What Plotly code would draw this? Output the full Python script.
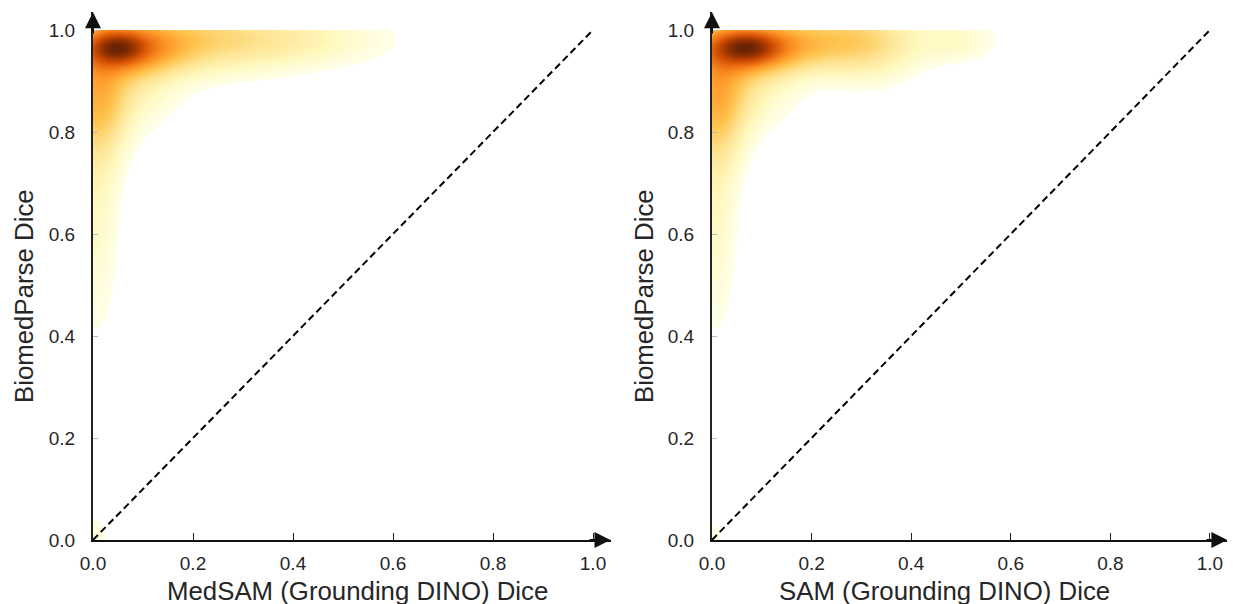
import numpy as np
import plotly.graph_objects as go

# ---- data: estimated density components ----
# (centre x, centre y, spread x, spread y, height) of the smoothed point cloud
left_cx = [0.05, 0.06, 0.20, 0.40, 0.01, 0.05, 0.005, 0.0]
left_cy = [0.965, 0.965, 0.985, 0.98, 0.86, 0.90, 0.68, 0.0]
left_sx = [0.035, 0.08, 0.13, 0.13, 0.04, 0.075, 0.032, 0.022]
left_sy = [0.02, 0.035, 0.045, 0.035, 0.08, 0.06, 0.18, 0.035]
left_h = [0.45, 0.45, 0.22, 0.10, 0.25, 0.14, 0.09, 0.06]

right_cx = [0.07, 0.07, 0.20, 0.31, 0.49, 0.01, 0.05, 0.005, 0.0]
right_cy = [0.965, 0.965, 0.98, 0.975, 0.98, 0.86, 0.90, 0.68, 0.0]
right_sx = [0.04, 0.085, 0.10, 0.07, 0.055, 0.04, 0.075, 0.032, 0.018]
right_sy = [0.02, 0.035, 0.035, 0.05, 0.03, 0.08, 0.06, 0.18, 0.03]
right_h = [0.45, 0.45, 0.18, 0.17, 0.08, 0.25, 0.14, 0.09, 0.05]

threshold = 0.03
diag = [0.0, 1.0]
tick_vals = [0.0, 0.2, 0.4, 0.6, 0.8, 1.0]
x_titles = ["MedSAM (Grounding DINO) Dice", "SAM (Grounding DINO) Dice"]
y_title = "BiomedParse Dice"

YLORBR = ["#ffffe5", "#fff7bc", "#fee391", "#fec44f", "#fe9929",
          "#ec7014", "#cc4c02", "#993404", "#662506"]
GAMMA = 0.75

grid = np.linspace(0.0, 1.0, 301)
GX, GY = np.meshgrid(grid, grid)


def density(cx, cy, sx, sy, h):
    z = np.zeros_like(GX)
    for a, b, c, d, e in zip(cx, cy, sx, sy, h):
        z += e * np.exp(-0.5 * ((GX - a) / c) ** 2 - 0.5 * ((GY - b) / d) ** 2)
    return z


NLEV = 80


def contour_trace(z, xa, ya):
    zmax = float(z.max())
    size = (zmax - threshold) / NLEV
    nc = NLEV
    cs = [[0.0, "rgba(255,255,255,0)"], [0.5 / nc, "rgba(255,255,255,0)"]]
    n = len(YLORBR) - 1
    for i, col in enumerate(YLORBR):
        f = (i / n) ** (1.0 / GAMMA)
        cs.append([1.0 / nc + (1 - 1.0 / nc) * f, col])
    return go.Contour(
        x=grid, y=grid, z=z, xaxis=xa, yaxis=ya,
        contours=dict(start=threshold, end=zmax - 0.5 * size, size=size, coloring="fill"),
        colorscale=cs, showscale=False, line=dict(width=0), hoverinfo="skip",
    )


z_left = density(left_cx, left_cy, left_sx, left_sy, left_h)
z_right = density(right_cx, right_cy, right_sx, right_sy, right_h)

fig = go.Figure()
fig.add_trace(contour_trace(z_left, "x", "y"))
fig.add_trace(contour_trace(z_right, "x2", "y2"))
for xa, ya in [("x", "y"), ("x2", "y2")]:
    fig.add_trace(go.Scatter(x=diag, y=diag, xaxis=xa, yaxis=ya, mode="lines",
                             line=dict(color="black", width=2, dash="7px,4px"),
                             hoverinfo="skip", showlegend=False))

FONT = "Liberation Sans, Arial, sans-serif"
TXT = "#262626"
XR = [0, 1.035]
YR = [0, 1.035]
ydom = [(604 - 540) / 604, (604 - 12.15) / 604]
xdoms = [[93 / 1233, 610.5 / 1233], [712 / 1233, 1227.4 / 1233]]

axcommon_x = dict(range=XR, tickvals=tick_vals, tickformat=".1f", ticks="inside",
                  ticklen=7, tickwidth=1.3, tickcolor="#222", showline=True,
                  linecolor="#111", linewidth=2, showgrid=False, zeroline=False,
                  tickfont=dict(family=FONT, size=19, color=TXT), ticklabelstandoff=5,
                  fixedrange=True)
axcommon_y = dict(range=YR, tickvals=tick_vals, tickformat=".1f", ticks="inside",
                  ticklen=5, tickwidth=1, tickcolor="#bbbbbb", showline=True,
                  linecolor="#222", linewidth=2, showgrid=False, zeroline=False,
                  tickfont=dict(family=FONT, size=19, color=TXT), ticklabelstandoff=12,
                  fixedrange=True)

fig.update_layout(
    width=1233, height=604, margin=dict(l=0, r=0, t=0, b=0, autoexpand=False),
    paper_bgcolor="white", plot_bgcolor="white", showlegend=False,
    xaxis=dict(domain=xdoms[0], anchor="y", **axcommon_x),
    yaxis=dict(domain=ydom, anchor="x", **axcommon_y),
    xaxis2=dict(domain=xdoms[1], anchor="y2", **axcommon_x),
    yaxis2=dict(domain=ydom, anchor="x2", **axcommon_y),
)

anns = []
for xa, ya in [("x", "y"), ("x2", "y2")]:
    anns.append(dict(x=1.035, y=0, ax=0.99, ay=0, xref=xa, yref=ya, axref=xa, ayref=ya,
                     text="", showarrow=True, arrowhead=2, arrowsize=1.6, arrowwidth=2,
                     arrowcolor="#111"))
    anns.append(dict(x=0, y=1.035, ax=0, ay=0.99, xref=xa, yref=ya, axref=xa, ayref=ya,
                     text="", showarrow=True, arrowhead=2, arrowsize=1.6, arrowwidth=2,
                     arrowcolor="#111"))
title_font = dict(family=FONT, size=25.8, color=TXT)
for xc, txt in [(357, x_titles[0]), (945, x_titles[1])]:
    anns.append(dict(x=xc / 1233, y=(604 - 591) / 604, xref="paper", yref="paper",
                     xanchor="center", yanchor="middle",
                     text=txt, showarrow=False, font=title_font))
for xc in [24, 644]:
    anns.append(dict(x=xc / 1233, y=(604 - 296) / 604, xref="paper", yref="paper",
                     xanchor="center", yanchor="middle", textangle=-90,
                     text=y_title, showarrow=False, font=title_font))
fig.update_layout(annotations=anns)

fig.write_html("out.html")
